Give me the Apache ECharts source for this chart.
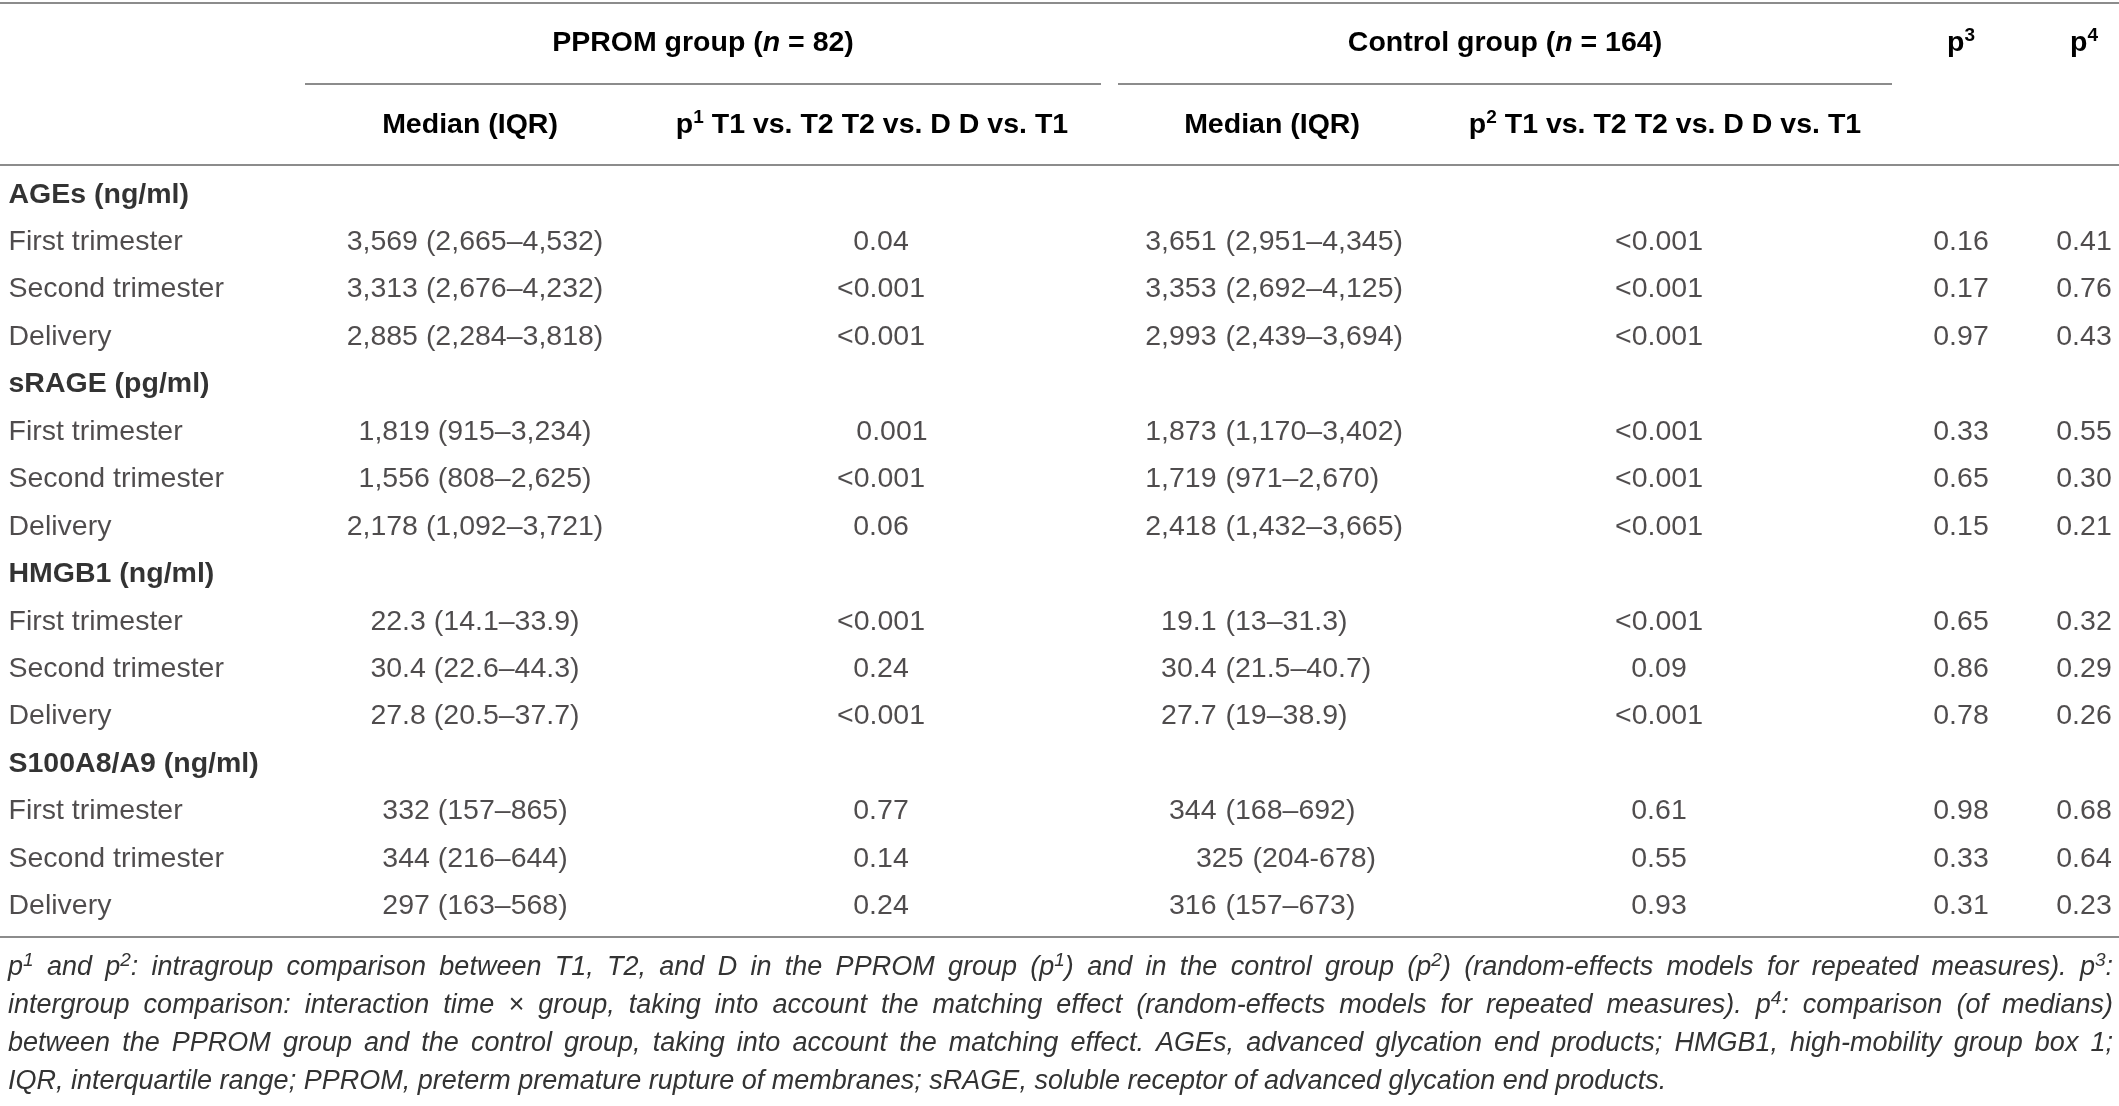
<!DOCTYPE html>
<html lang="en">
<head>
<meta charset="utf-8">
<title>PPROM vs control - AGEs, sRAGE, HMGB1, S100A8/A9</title>
<script src="https://cdn.jsdelivr.net/npm/echarts@6/dist/echarts.min.js"></script>
<style>
    html, body { margin: 0; padding: 0; background: #fff; }
    #main { width: 2119px; height: 1106px; }
</style>
</head>
<body>
<div id="main"></div>
<script type="text/javascript">
// table rows (stub column)
var rowLabels = [
    'AGEs (ng/ml)', 'First trimester', 'Second trimester', 'Delivery',
    'sRAGE (pg/ml)', 'First trimester', 'Second trimester', 'Delivery',
    'HMGB1 (ng/ml)', 'First trimester', 'Second trimester', 'Delivery',
    'S100A8/A9 (ng/ml)', 'First trimester', 'Second trimester', 'Delivery'
];
var groupRows = [0, 4, 8, 12];

// PPROM group (n = 82)
var pprMedian = [
    '', '3,569 (2,665–4,532)', '3,313 (2,676–4,232)', '2,885 (2,284–3,818)',
    '', '1,819 (915–3,234)', '1,556 (808–2,625)', '2,178 (1,092–3,721)',
    '', '22.3 (14.1–33.9)', '30.4 (22.6–44.3)', '27.8 (20.5–37.7)',
    '', '332 (157–865)', '344 (216–644)', '297 (163–568)'
];
var pprP1 = [
    '', '0.04', '<0.001', '<0.001',
    '', '0.001', '<0.001', '0.06',
    '', '<0.001', '0.24', '<0.001',
    '', '0.77', '0.14', '0.24'
];

// Control group (n = 164)
var ctlMedian = [
    '', '3,651 (2,951–4,345)', '3,353 (2,692–4,125)', '2,993 (2,439–3,694)',
    '', '1,873 (1,170–3,402)', '1,719 (971–2,670)', '2,418 (1,432–3,665)',
    '', '19.1 (13–31.3)', '30.4 (21.5–40.7)', '27.7 (19–38.9)',
    '', '344 (168–692)', '325 (204-678)', '316 (157–673)'
];
var ctlP2 = [
    '', '<0.001', '<0.001', '<0.001',
    '', '<0.001', '<0.001', '<0.001',
    '', '<0.001', '0.09', '<0.001',
    '', '0.61', '0.55', '0.93'
];

var p3 = [
    '', '0.16', '0.17', '0.97',
    '', '0.33', '0.65', '0.15',
    '', '0.65', '0.86', '0.78',
    '', '0.98', '0.33', '0.31'
];
var p4 = [
    '', '0.41', '0.76', '0.43',
    '', '0.55', '0.30', '0.21',
    '', '0.32', '0.29', '0.26',
    '', '0.68', '0.64', '0.23'
];

// footnote lines, ^n = superscript
var footnotes = [
    'p^1 and p^2: intragroup comparison between T1, T2, and D in the PPROM group (p^1) and in the control group (p^2) (random-effects models for repeated measures). p^3:',
    'intergroup comparison: interaction time × group, taking into account the matching effect (random-effects models for repeated measures). p^4: comparison (of medians)',
    'between the PPROM group and the control group, taking into account the matching effect. AGEs, advanced glycation end products; HMGB1, high-mobility group box 1;',
    'IQR, interquartile range; PPROM, preterm premature rupture of membranes; sRAGE, soluble receptor of advanced glycation end products.'
];

var FONT = '"Liberation Sans", Arial, sans-serif';
var INK = '#231f20';
var RULE = '#8c8c8c';
var FS = 28.5;
var FFS = 27;     // footnote size
var SUP = 19;

// layout: x centre of each column (stub column = left edge)
var colX = [8, 475, 881, 0, 1659, 1961, 2084];
var p1Nudge = { 5: 11 };
var ctlParenX = 1225;          // control medians line up on "("
var ctlNudge = { 14: 27 };
var footY = [967, 1005, 1043, 1081];
var footLeft = 8, footRight = 2113;

var myChart = echarts.init(document.getElementById('main'));

function labelSeries(pts, pos, fmt) {
    return {
        type: 'scatter',
        symbolSize: 1,
        silent: true,
        itemStyle: { color: 'rgba(0,0,0,0)' },
        data: pts,
        label: {
            show: true,
            position: pos,
            distance: 0,
            color: INK,
            fontSize: FS,
            fontFamily: FONT,
            formatter: fmt || function (p) { return p.data[2]; },
            rich: {
                b: { fontWeight: 'bold', fontSize: FS, fontFamily: FONT, color: '#000' }
            }
        }
    };
}

function colPoints(col, x, nudge) {
    var pts = [];
    for (var i = 0; i < col.length; i++) {
        if (col[i]) pts.push([x + ((nudge && nudge[i]) || 0), i, col[i]]);
    }
    return pts;
}

var series = [];
series.push(labelSeries(colPoints(rowLabels, colX[0]), 'right', function (p) {
    var t = p.data[2];
    return groupRows.indexOf(p.data[1]) >= 0 ? '{b|' + t + '}' : t;
}));
series.push(labelSeries(colPoints(pprMedian, colX[1]), 'inside'));
series.push(labelSeries(colPoints(pprP1, colX[2], p1Nudge), 'inside'));
series.push(labelSeries(colPoints(ctlP2, colX[4]), 'inside'));
series.push(labelSeries(colPoints(p3, colX[5]), 'inside'));
series.push(labelSeries(colPoints(p4, colX[6]), 'inside'));

// control medians split at the bracket
var ctlNum = [], ctlRange = [];
ctlMedian.forEach(function (t, i) {
    if (!t) return;
    var k = t.indexOf(' (');
    var x = ctlParenX + (ctlNudge[i] || 0);
    ctlNum.push([x - 8, i, t.slice(0, k)]);
    ctlRange.push([x, i, t.slice(k + 1)]);
});
series.push(labelSeries(ctlNum, 'left'));
series.push(labelSeries(ctlRange, 'right'));

function hline(x1, x2, y) {
    return { type: 'line', silent: true, shape: { x1: x1, y1: y, x2: x2, y2: y },
             style: { stroke: RULE, lineWidth: 2 } };
}

var headRich = {
    h: { fontWeight: 'bold', fontSize: FS, fontFamily: FONT, fill: '#000', lineHeight: 34 },
    i: { fontWeight: 'bold', fontStyle: 'italic', fontSize: FS, fontFamily: FONT, fill: '#000', lineHeight: 34 },
    u: { fontWeight: 'bold', fontSize: SUP, fontFamily: FONT, fill: '#000', lineHeight: 20, verticalAlign: 'top' }
};
function htext(txt, x, y) {
    return { type: 'text', silent: true,
             style: { text: txt, x: x, y: y, align: 'center', verticalAlign: 'middle', rich: headRich } };
}

// footnotes: justified like the journal layout (last line ragged)
var ctx = document.createElement('canvas').getContext('2d');
function textW(t, size) {
    ctx.font = 'italic ' + size + 'px ' + FONT;
    return ctx.measureText(t).width;
}
var footRich = {
    s: { fontStyle: 'italic', fontSize: FFS, fontFamily: FONT, fill: '#333', lineHeight: 32 },
    u: { fontStyle: 'italic', fontSize: SUP, fontFamily: FONT, fill: '#333', lineHeight: 20, verticalAlign: 'top' }
};
function footText(line, k, justify) {
    var pieces = [];
    line.split(/(\^\d)/).forEach(function (pt) {
        if (!pt) return;
        if (pt.charAt(0) === '^') { pieces.push({ st: 'u', t: pt.slice(1) }); return; }
        pt.split(' ').forEach(function (w, wi) {
            if (wi > 0) pieces.push({ st: 'gap' });
            if (w) pieces.push({ st: 's', t: w });
        });
    });
    var spaceW = textW(' ', FFS), natural = 0, gaps = 0;
    pieces.forEach(function (p) {
        if (p.st === 'gap') { gaps++; natural += spaceW; }
        else natural += textW(p.t, p.st === 'u' ? SUP : FFS);
    });
    var gapW = spaceW;
    if (justify && gaps) gapW += (footRight - footLeft - natural) / gaps;
    footRich['g' + k] = { fontStyle: 'italic', fontSize: FFS, fontFamily: FONT, width: gapW, lineHeight: 32 };
    return pieces.map(function (p) {
        return p.st === 'gap' ? '{g' + k + '| }' : '{' + p.st + '|' + p.t + '}';
    }).join('');
}

var graphics = [
    hline(0, 2119, 3),
    hline(305, 1101, 84),
    hline(1118, 1892, 84),
    hline(0, 2119, 165),
    hline(0, 2119, 937),
    htext('{h|PPROM group (}{i|n}{h| = 82)}', 703, 43),
    htext('{h|Control group (}{i|n}{h| = 164)}', 1505, 43),
    htext('{h|p}{u|3}', 1961, 43),
    htext('{h|p}{u|4}', 2084, 43),
    htext('{h|Median (IQR)}', 470, 125),
    htext('{h|p}{u|1}{h| T1 vs. T2 T2 vs. D D vs. T1}', 872, 125),
    htext('{h|Median (IQR)}', 1272, 125),
    htext('{h|p}{u|2}{h| T1 vs. T2 T2 vs. D D vs. T1}', 1665, 125)
];
footnotes.forEach(function (t, k) {
    graphics.push({ type: 'text', silent: true,
        style: { text: footText(t, k, k < footnotes.length - 1), x: footLeft, y: footY[k],
                 align: 'left', verticalAlign: 'middle', rich: footRich } });
});

myChart.setOption({
    animation: false,
    backgroundColor: '#fff',
    grid: { left: 0, right: 0, top: 171, bottom: 176 },
    xAxis: { type: 'value', min: 0, max: 2119, show: false },
    yAxis: { type: 'category', data: rowLabels.map(function (r, i) { return i; }), inverse: true, show: false },
    series: series,
    graphic: graphics
});
</script>
</body>
</html>
